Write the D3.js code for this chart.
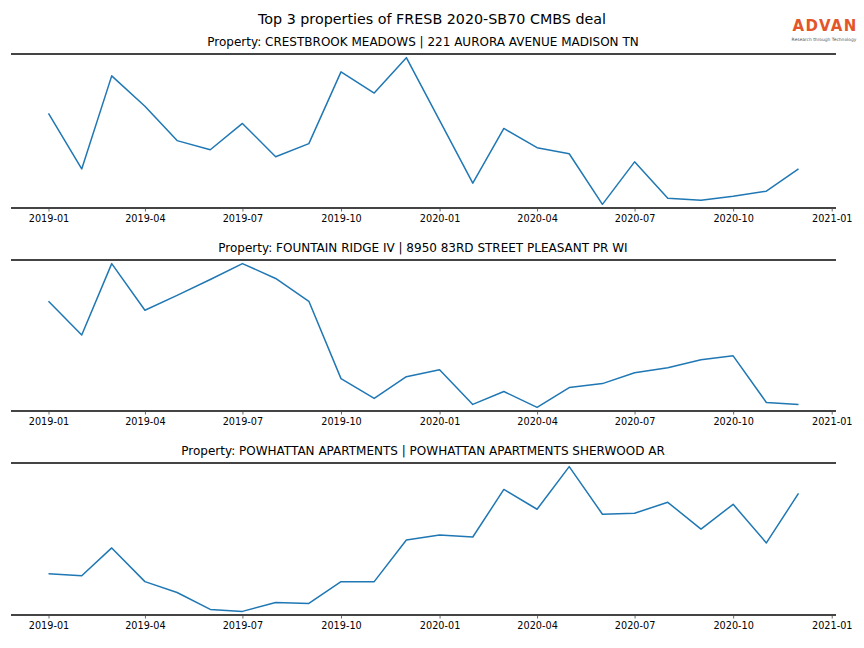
<!DOCTYPE html>
<html>
<head>
<meta charset="utf-8">
<script src="https://cdn.jsdelivr.net/npm/d3@7/dist/d3.min.js"></script>
<style>
  html, body { margin: 0; padding: 0; background: #fff; }
  svg { display: block; font-family: "DejaVu Sans", sans-serif; }
</style>
</head>
<body>
<svg id="chart" width="864" height="648"></svg>
<script>
const months = ["2019-01","2019-02","2019-03","2019-04","2019-05","2019-06","2019-07","2019-08","2019-09","2019-10","2019-11","2019-12",
                "2020-01","2020-02","2020-03","2020-04","2020-05","2020-06","2020-07","2020-08","2020-09","2020-10","2020-11","2020-12"];
const titles = [
  "Property: CRESTBROOK MEADOWS | 221 AURORA AVENUE MADISON TN",
  "Property: FOUNTAIN RIDGE IV | 8950 83RD STREET PLEASANT PR WI",
  "Property: POWHATTAN APARTMENTS | POWHATTAN APARTMENTS SHERWOOD AR"
];
const crestbrook = [94, 39, 131, 101, 67, 58, 84, 51, 64, 135, 114, 149, 87, 25, 79, 60, 54, 4, 46, 10, 8, 12, 17, 39];
const fountain   = [110, 76, 148, 101, 116, 132, 148, 133, 110, 32, 12, 34, 41, 6, 19, 3, 23, 27, 38, 43, 51, 55, 8, 6];
const powhattan  = [40, 38, 66, 32, 21, 4, 2, 11, 10, 32, 32, 74, 79, 77, 125, 105, 148, 100, 101, 112, 85, 110, 71, 121];
const series = [crestbrook, fountain, powhattan];
const tickLabels = ["2019-01","2019-04","2019-07","2019-10","2020-01","2020-04","2020-07","2020-10","2021-01"];
const suptitle = "Top 3 properties of FRESB 2020-SB70 CMBS deal";

const svg = d3.select("#chart");
const parse = d3.timeParse("%Y-%m");
const dates = months.map(parse);

const panels = [{top: 54, bottom: 208}, {top: 260, bottom: 411}, {top: 463, bottom: 615}];
const left = 11, right = 836;

// x domain with 5% margins (matplotlib style)
const t0 = dates[0].getTime(), t1 = dates[dates.length - 1].getTime();
const pad = (t1 - t0) * 0.05;
const x = d3.scaleTime().domain([new Date(t0 - pad), new Date(t1 + pad)]).range([left, right]);

svg.append("text").attr("x", 432).attr("y", 24).attr("text-anchor", "middle")
  .attr("font-size", 14.3).attr("fill", "#000").text(suptitle);

// logo
svg.append("text").attr("x", 825).attr("y", 31.3).attr("text-anchor", "middle")
  .attr("font-size", 15).attr("font-weight", "bold").attr("fill", "#e2562a")
  .attr("letter-spacing", 1.2).text("ADVAN");
svg.append("text").attr("x", 824).attr("y", 40.5).attr("text-anchor", "middle")
  .attr("font-size", 4.4).attr("fill", "#555").text("Research through Technology");

panels.forEach((p, i) => {
  const vals = series[i];
  const ext = d3.extent(vals);
  const ypad = (ext[1] - ext[0]) * 0.025;
  const y = d3.scaleLinear().domain([ext[0] - ypad, ext[1] + ypad]).range([p.bottom, p.top]);
  const g = svg.append("g");

  g.append("text").attr("x", (left + right) / 2 - 0.5).attr("y", p.top - 8)
    .attr("text-anchor", "middle").attr("font-size", 12).attr("fill", "#000").text(titles[i]);

  const ticks = tickLabels.map(parse);
  const axis = d3.axisBottom(x).tickValues(ticks).tickFormat(d3.timeFormat("%Y-%m")).tickSize(3.5).tickPadding(3.5);
  const ax = g.append("g").attr("transform", `translate(0,${p.bottom})`).call(axis);
  ax.select(".domain").remove();
  ax.selectAll(".tick line").attr("stroke", "#444").attr("stroke-width", 0.8);
  ax.selectAll(".tick text").attr("font-size", 9.7).attr("fill", "#000").attr("font-family", "DejaVu Sans, sans-serif");

  const line = d3.line().x((d, j) => x(dates[j])).y(d => y(d));
  g.append("path").datum(vals).attr("d", line).attr("fill", "none")
    .attr("stroke", "#1f77b4").attr("stroke-width", 1.5).attr("stroke-linejoin", "round");

  [p.top, p.bottom].forEach(yy => {
    g.append("line").attr("x1", left).attr("x2", right).attr("y1", yy).attr("y2", yy)
      .attr("stroke", "#444").attr("stroke-width", 1.8);
  });
});
</script>
</body>
</html>
